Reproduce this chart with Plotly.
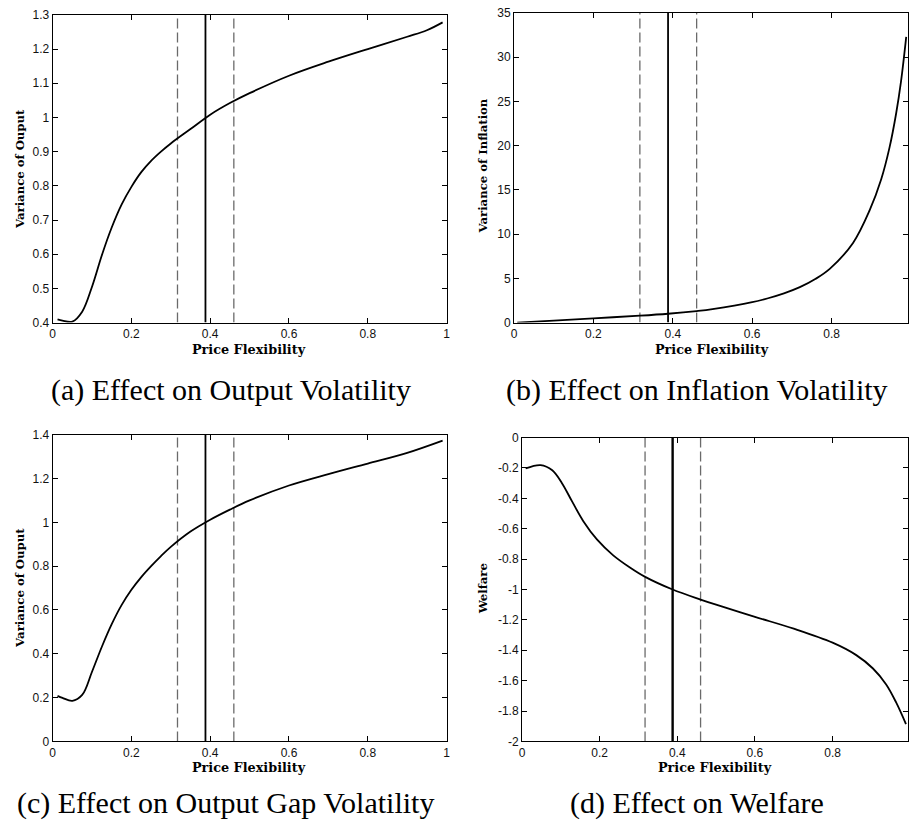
import plotly.graph_objects as go

# ---------------- data ----------------
# (a) Effect on Output Volatility
flex_a = [0.0125, 0.025, 0.05, 0.075, 0.1, 0.125, 0.15, 0.175, 0.2, 0.225, 0.25, 0.275,
          0.3, 0.35, 0.4, 0.45, 0.5, 0.6, 0.7, 0.8, 0.9, 0.95, 0.99]
var_output = [0.4095, 0.406, 0.403, 0.432, 0.505, 0.597, 0.678, 0.745, 0.797, 0.84, 0.873,
              0.9, 0.924, 0.966, 1.008, 1.042, 1.071, 1.122, 1.163, 1.2, 1.236, 1.255, 1.278]

# (b) Effect on Inflation Volatility
flex_b = [0.008, 0.1, 0.2, 0.317, 0.388, 0.46, 0.5, 0.6, 0.64, 0.68, 0.72, 0.76, 0.796,
          0.854, 0.896, 0.925, 0.946, 0.9625, 0.975, 0.988]
var_inflation = [0.0, 0.22, 0.48, 0.78, 1.0, 1.3, 1.52, 2.3, 2.75, 3.3, 4.0, 4.95, 6.1,
                 9.0, 12.7, 16.2, 19.8, 23.6, 27.3, 32.3]

# (c) Effect on Output Gap Volatility
flex_c = [0.0125, 0.025, 0.05, 0.075, 0.1, 0.125, 0.15, 0.175, 0.2, 0.225, 0.25, 0.275,
          0.3, 0.35, 0.4, 0.45, 0.5, 0.6, 0.7, 0.8, 0.9, 0.99]
var_gap = [0.208, 0.199, 0.185, 0.212, 0.318, 0.432, 0.535, 0.622, 0.692, 0.75, 0.8,
           0.846, 0.888, 0.958, 1.012, 1.058, 1.1, 1.168, 1.22, 1.268, 1.317, 1.373]

# (d) Effect on Welfare
flex_d = [0.0094, 0.048, 0.078, 0.103, 0.129, 0.158, 0.193, 0.235, 0.278, 0.316,
          0.388, 0.46, 0.5, 0.6, 0.7, 0.8, 0.861, 0.904, 0.938, 0.964, 0.989]
welfare = [-0.203, -0.181, -0.215, -0.3, -0.42, -0.55, -0.67, -0.775, -0.855, -0.915,
           -1.0, -1.066, -1.1, -1.18, -1.258, -1.35, -1.432, -1.52, -1.625, -1.745, -1.886]

# reference lines (estimate and band)
band_lower = 0.317
estimate = 0.388
band_upper = 0.46

# axis ticks
x_ticks = [0, 0.2, 0.4, 0.6, 0.8, 1]
x_tick_labels = ["0", "0.2", "0.4", "0.6", "0.8", "1"]
ya_ticks = [0.4, 0.5, 0.6, 0.7, 0.8, 0.9, 1.0, 1.1, 1.2, 1.3]
ya_labels = ["0.4", "0.5", "0.6", "0.7", "0.8", "0.9", "1", "1.1", "1.2", "1.3"]
yb_ticks = [0, 5, 10, 15, 20, 25, 30, 35]
yb_labels = ["0", "5", "10", "15", "20", "25", "30", "35"]
yc_ticks = [0, 0.2, 0.4, 0.6, 0.8, 1.0, 1.2, 1.4]
yc_labels = ["0", "0.2", "0.4", "0.6", "0.8", "1", "1.2", "1.4"]
yd_ticks = [0, -0.2, -0.4, -0.6, -0.8, -1.0, -1.2, -1.4, -1.6, -1.8, -2.0]
yd_labels = ["0", "-0.2", "-0.4", "-0.6", "-0.8", "-1", "-1.2", "-1.4", "-1.6", "-1.8", "-2"]

y_ranges = {"a": [0.4, 1.3], "b": [0, 35], "c": [0, 1.4], "d": [-2, 0]}

y_titles = {"a": "Variance of Ouput", "b": "Variance of Inflation",
            "c": "Variance of Ouput", "d": "Welfare"}
x_title = "Price Flexibility"
captions = {"a": "(a) Effect on Output Volatility",
            "b": "(b) Effect on Inflation Volatility",
            "c": "(c) Effect on Output Gap Volatility",
            "d": "(d) Effect on Welfare"}

# ---------------- figure ----------------
W, H = 912, 830
fig = go.Figure()

panels = [
    ("a", "x", "y", flex_a, var_output, ya_ticks, ya_labels),
    ("b", "x2", "y2", flex_b, var_inflation, yb_ticks, yb_labels),
    ("c", "x3", "y3", flex_c, var_gap, yc_ticks, yc_labels),
    ("d", "x4", "y4", flex_d, welfare, yd_ticks, yd_labels),
]

for key, xa, ya, xs, ys, _, _ in panels:
    lo, hi = y_ranges[key]
    for v, dash, col, w in [(band_lower, "10px,4px", "#6a6a6a", 1.3),
                            (band_upper, "10px,4px", "#6a6a6a", 1.3),
                            (estimate, "solid", "black", 1.8 if key != "d" else 2.4)]:
        fig.add_trace(go.Scatter(x=[v, v], y=[lo, hi], mode="lines", xaxis=xa, yaxis=ya,
                                 line=dict(color=col, width=w, dash=dash),
                                 hoverinfo="skip", showlegend=False))
    fig.add_trace(go.Scatter(x=xs, y=ys, mode="lines", xaxis=xa, yaxis=ya,
                             line=dict(color="black", width=1.8, shape="spline", smoothing=1.0),
                             showlegend=False))

def px_x(p):
    return p / W

def px_y(p):
    return 1 - p / H

tick_font = dict(family="Liberation Sans", size=12, color="#111")

# domains in pixels: (left, right, top, bottom)
dom = {
    "a": (50, 447, 8, 321),
    "b": (515, 912, 6, 321),
    "c": (50, 447, 435, 747),
    "d": (523, 912, 438, 747),
}
x_max = {"a": 1.0, "b": (912 - 515) / 400.0, "c": 1.0, "d": (912 - 523) / 391.25}

axis_names = {"a": ("xaxis", "yaxis", "y", "x"), "b": ("xaxis2", "yaxis2", "y2", "x2"),
              "c": ("xaxis3", "yaxis3", "y3", "x3"), "d": ("xaxis4", "yaxis4", "y4", "x4")}

layout_axes = {}
for key, xa, ya, xs, ys, yt, yl in panels:
    l, r, t, b = dom[key]
    xname, yname, yanchor, xanchor = axis_names[key]
    layout_axes[xname] = dict(
        domain=[px_x(l), px_x(r)], anchor=yanchor, range=[0, x_max[key]],
        tickvals=x_ticks, ticktext=x_tick_labels, ticks="inside", ticklen=5,
        tickwidth=1, tickcolor="black", showline=True, linecolor="black", linewidth=1,
        mirror="ticks", showgrid=False, zeroline=False, tickfont=tick_font,
    )
    layout_axes[yname] = dict(
        domain=[px_y(b), px_y(t)], anchor=xanchor, range=y_ranges[key],
        tickvals=yt, ticktext=yl, ticks="inside", ticklen=5,
        tickwidth=1, tickcolor="black", showline=True, linecolor="black", linewidth=1,
        mirror="ticks", showgrid=False, zeroline=False, tickfont=tick_font,
    )

xtitle_font = dict(family="DejaVu Serif", size=12.8, color="black")
ytitle_font = dict(family="DejaVu Serif", size=11.7, color="black")
cap_font = dict(family="Liberation Serif", size=30, color="black")

annotations = []
# x titles
for key, cx, cy in [("a", 248, 348), ("b", 714, 348), ("c", 248, 774), ("d", 718, 774)]:
    annotations.append(dict(text="<b>" + x_title + "</b>", x=px_x(cx), y=px_y(cy),
                            xref="paper", yref="paper", showarrow=False,
                            xanchor="center", yanchor="middle", font=xtitle_font))
# y titles
for key, cx, cy in [("a", 17, 165), ("b", 484, 162), ("c", 17, 591), ("d", 484, 592)]:
    annotations.append(dict(text="<b>" + y_titles[key] + "</b>", x=px_x(cx), y=px_y(cy),
                            xref="paper", yref="paper", showarrow=False, textangle=-90,
                            xanchor="center", yanchor="middle", font=ytitle_font))
# captions
for key, cx, cy in [("a", 230, 390), ("b", 699, 390), ("c", 224, 810), ("d", 699, 810)]:
    annotations.append(dict(text=captions[key], x=px_x(cx), y=px_y(cy),
                            xref="paper", yref="paper", showarrow=False,
                            xanchor="center", yanchor="middle", font=cap_font))

fig.update_layout(
    width=W, height=H, autosize=False,
    margin=dict(l=0, r=0, t=0, b=0, pad=0),
    paper_bgcolor="white", plot_bgcolor="white",
    showlegend=False, annotations=annotations,
    **layout_axes,
)

fig.write_html("out.html", config={"displayModeBar": False})
